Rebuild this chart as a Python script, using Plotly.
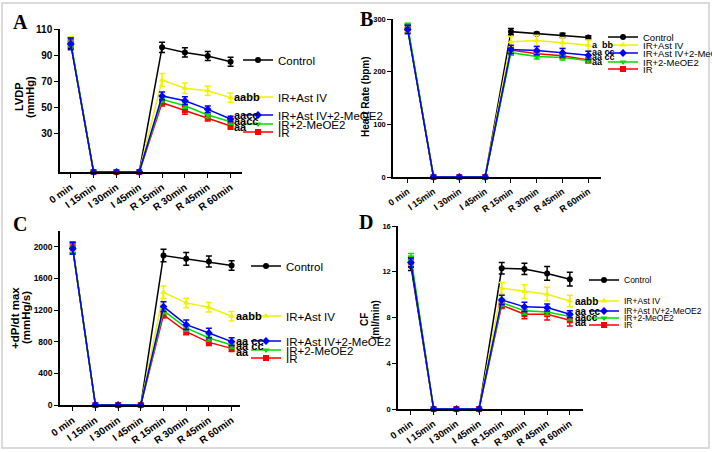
import plotly.graph_objects as go

W, H = 712, 452

times = ["0 min", "I 15min", "I 30min", "I 45min", "R 15min", "R 30min", "R 45min", "R 60min"]
groups = ["Control", "IR+Ast IV", "IR+Ast IV+2-MeOE2", "IR+2-MeOE2", "IR"]

# LVDP (mmHg)
lvdp_control = [99, 0, 0, 0, 95.9, 92.0, 89.2, 84.8]
lvdp_ast = [100, 0, 0, 0, 70.8, 64.4, 62.5, 57.2]
lvdp_ast_meo = [98.5, 0, 0, 0, 58.5, 54.8, 48.2, 40.8]
lvdp_meo = [100, 0, 0, 0, 55.9, 51.0, 43.8, 38.7]
lvdp_ir = [99, 0, 0, 0, 53.3, 47.5, 41.8, 35.4]
lvdp_control_err = [4, 0, 0, 0, 4, 3.5, 3.5, 3.5]
lvdp_ast_err = [4, 0, 0, 0, 5, 4, 3.5, 3.5]
lvdp_ast_meo_err = [4.5, 0, 0, 0, 3, 3, 2.5, 2]
lvdp_meo_err = [3, 0, 0, 0, 2, 2, 2, 2]
lvdp_ir_err = [3, 0, 0, 0, 2.5, 3, 2.5, 2.5]

# Heart rate (bpm)
hr_control = [282, 0, 0, 0, 276, 272, 269, 265]
hr_ast = [284, 0, 0, 0, 257, 259, 255, 250]
hr_ast_meo = [280, 0, 0, 0, 242, 240, 236, 231]
hr_meo = [287, 0, 0, 0, 236, 229, 227, 221]
hr_ir = [283, 0, 0, 0, 241, 234, 230, 222]
hr_control_err = [8, 0, 0, 0, 6, 3, 4, 3]
hr_ast_err = [8, 0, 0, 0, 10, 10, 10, 10]
hr_ast_meo_err = [8, 0, 0, 0, 8, 8, 8, 8]
hr_meo_err = [5, 0, 0, 0, 5, 5, 5, 5]
hr_ir_err = [5, 0, 0, 0, 5, 5, 5, 5]

# +dP/dt max (mmHg/s)
dp_control = [1980, 0, 0, 0, 1890, 1848, 1814, 1763]
dp_ast = [1985, 0, 0, 0, 1425, 1291, 1235, 1122]
dp_ast_meo = [1980, 0, 0, 0, 1244, 1016, 911, 801]
dp_meo = [1990, 0, 0, 0, 1194, 975, 848, 759]
dp_ir = [1995, 0, 0, 0, 1139, 928, 792, 716]
dp_control_err = [70, 0, 0, 0, 80, 80, 70, 60]
dp_ast_err = [70, 0, 0, 0, 80, 60, 60, 60]
dp_ast_meo_err = [70, 0, 0, 0, 60, 60, 60, 50]
dp_meo_err = [60, 0, 0, 0, 40, 40, 40, 40]
dp_ir_err = [70, 0, 0, 0, 40, 40, 40, 40]

# CF (ml/min)
cf_control = [12.5, 0, 0, 0, 12.3, 12.25, 11.85, 11.35]
cf_ast = [13.0, 0, 0, 0, 10.56, 10.27, 10.04, 9.45]
cf_ast_meo = [12.8, 0, 0, 0, 9.54, 8.93, 8.87, 8.29]
cf_meo = [13.3, 0, 0, 0, 9.3, 8.58, 8.49, 8.08]
cf_ir = [13.0, 0, 0, 0, 9.08, 8.29, 8.29, 7.76]
cf_control_err = [0.4, 0, 0, 0, 0.5, 0.5, 0.6, 0.6]
cf_ast_err = [0.4, 0, 0, 0, 0.5, 0.6, 0.6, 0.5]
cf_ast_meo_err = [0.4, 0, 0, 0, 0.4, 0.4, 0.3, 0.3]
cf_meo_err = [0.3, 0, 0, 0, 0.3, 0.3, 0.3, 0.3]
cf_ir_err = [0.3, 0, 0, 0, 0.3, 0.4, 0.5, 0.5]

panels = [
    dict(letter="A", title=["LVDP", "(mmHg)"],
         series=[lvdp_control, lvdp_ast, lvdp_ast_meo, lvdp_meo, lvdp_ir],
         errors=[lvdp_control_err, lvdp_ast_err, lvdp_ast_meo_err, lvdp_meo_err, lvdp_ir_err],
         yticks=[30, 50, 70, 90, 110],
         sig=["aabb", "aacc", "aacc", "aa"]),
    dict(letter="B", title=["Heart Rate (bpm)"],
         series=[hr_control, hr_ast, hr_ast_meo, hr_meo, hr_ir],
         errors=[hr_control_err, hr_ast_err, hr_ast_meo_err, hr_meo_err, hr_ir_err],
         yticks=[0, 100, 200, 300],
         sig=["a  bb", "aa cc", "aa cc", "aa"]),
    dict(letter="C", title=["+dP/dt max", "(mmHg/s)"],
         series=[dp_control, dp_ast, dp_ast_meo, dp_meo, dp_ir],
         errors=[dp_control_err, dp_ast_err, dp_ast_meo_err, dp_meo_err, dp_ir_err],
         yticks=[0, 400, 800, 1200, 1600, 2000],
         sig=["aabb", "aa cc", "aa cc", "aa"]),
    dict(letter="D", title=["CF", "(ml/min)"],
         series=[cf_control, cf_ast, cf_ast_meo, cf_meo, cf_ir],
         errors=[cf_control_err, cf_ast_err, cf_ast_meo_err, cf_meo_err, cf_ir_err],
         yticks=[0, 4, 8, 12, 16],
         sig=["aabb", "aa cc", "aacc", "aa"]),
]

# layout in pixels (from the top-left corner of the picture)
geo = [
    dict(x=(60, 242), y=(29, 172), xr=[-0.47, 7.5], yr=[0, 110], letter=(20, 22),
         title_x=[19, 30], title_y=97, title_fs=11, xtick_fs=10, ytick_fs=10,
         leg_x=278, leg_y=[60, 97, 115, 124, 132], leg_fs=11.5,
         sig_x=232, sig_y=[97, 115, 121, 127], sig_fs=11),
    dict(x=(393, 601), y=(19, 177), xr=[-0.57, 7.49], yr=[0, 300], letter=(366, 19),
         title_x=[366], title_y=97, title_fs=10, xtick_fs=9, ytick_fs=7.5,
         leg_x=643, leg_y=[37, 45, 53, 62, 69], leg_fs=9.5,
         sig_x=590, sig_y=[45, 52, 57, 62], sig_fs=9),
    dict(x=(60, 240), y=(231, 405), xr=[-0.56, 7.37], yr=[0, 2200], letter=(20, 224),
         title_x=[15, 26], title_y=318, title_fs=11.5, xtick_fs=10, ytick_fs=8.5,
         leg_x=286, leg_y=[266, 316, 341, 350, 358], leg_fs=11.5,
         sig_x=234, sig_y=[316, 341, 346, 352], sig_fs=11),
    dict(x=(398, 583), y=(226, 409), xr=[-0.57, 7.58], yr=[0, 16], letter=(366, 222),
         title_x=[364, 375], title_y=320, title_fs=10, xtick_fs=9.5, ytick_fs=7.5,
         leg_x=624, leg_y=[280, 301, 311, 318, 325], leg_fs=8.5,
         sig_x=573, sig_y=[301, 311, 317, 322], sig_fs=10),
]

colors = ["#000000", "#f2f200", "#0000ff", "#00dd00", "#ff0000"]
symbols = ["circle", "triangle-up", "diamond", "triangle-down", "square"]
draw_order = [0, 1, 4, 3, 2]


def px(xp):
    return xp / W


def py(yp):
    return 1 - yp / H


fig = go.Figure()
layout = dict(width=W, height=H, margin=dict(l=0, r=0, t=0, b=0, autoexpand=False),
              paper_bgcolor="white", plot_bgcolor="white",
              font=dict(family="Arial, Liberation Sans", color="black"))
annotations = []
legend_count = 0

for i, (p, g) in enumerate(zip(panels, geo)):
    n = i + 1
    xa = "x" if n == 1 else f"x{n}"
    ya = "y" if n == 1 else f"y{n}"
    for k in draw_order:
        legend_count += 1
        lname = "legend" if legend_count == 1 else f"legend{legend_count}"
        fig.add_trace(go.Scatter(
            x=times, y=p["series"][k], name=groups[k],
            mode="lines+markers", xaxis=xa, yaxis=ya, cliponaxis=False,
            line=dict(color=colors[k], width=1.5),
            marker=dict(color=colors[k], symbol=symbols[k], size=6),
            error_y=dict(type="data", array=p["errors"][k], color=colors[k],
                         thickness=1.5, width=3),
            legend=lname, showlegend=True,
        ))
        layout[lname] = dict(x=px(g["leg_x"] - 40), y=py(g["leg_y"][k]),
                             xanchor="left", yanchor="middle",
                             bgcolor="rgba(0,0,0,0)", borderwidth=0,
                             font=dict(size=g["leg_fs"], color="black"),
                             itemclick=False, tracegroupgap=0)
    xkey = "xaxis" if n == 1 else f"xaxis{n}"
    ykey = "yaxis" if n == 1 else f"yaxis{n}"
    layout[xkey] = dict(domain=[px(g["x"][0]), px(g["x"][1])], anchor=ya,
                        type="category", categoryorder="array", categoryarray=times,
                        range=g["xr"], showline=True, linecolor="black", linewidth=1.5,
                        ticks="outside", ticklen=4, tickwidth=1.2, tickcolor="black",
                        tickangle=-35, showgrid=False, zeroline=False, automargin=False,
                        tickfont=dict(size=g["xtick_fs"], weight="bold"))
    layout[ykey] = dict(domain=[py(g["y"][1]), py(g["y"][0])], anchor=xa,
                        range=g["yr"], tickvals=p["yticks"], automargin=False,
                        showline=True, linecolor="black", linewidth=1.5,
                        ticks="outside", ticklen=4, tickwidth=1.2, tickcolor="black",
                        showgrid=False, zeroline=False,
                        tickfont=dict(size=g["ytick_fs"], weight="bold"))
    annotations.append(dict(x=px(g["letter"][0]), y=py(g["letter"][1]), xref="paper", yref="paper",
                            text=p["letter"], showarrow=False, xanchor="center", yanchor="middle",
                            font=dict(family="Liberation Serif, Times New Roman", size=20,
                                      weight="bold")))
    for line, tx in zip(p["title"], g["title_x"]):
        annotations.append(dict(x=px(tx), y=py(g["title_y"]), xref="paper", yref="paper",
                                text=line, showarrow=False, textangle=-90,
                                xanchor="center", yanchor="middle",
                                font=dict(size=g["title_fs"], weight="bold")))
    for s, sy in zip(p["sig"], g["sig_y"]):
        annotations.append(dict(x=px(g["sig_x"]), y=py(sy), xref="paper", yref="paper",
                                text=s.replace(" ", "&nbsp;"), showarrow=False,
                                xanchor="left", yanchor="middle",
                                font=dict(size=g["sig_fs"], weight="bold")))

layout["annotations"] = annotations
layout["shapes"] = [dict(type="rect", xref="paper", yref="paper",
                         x0=px(2), x1=px(709), y0=py(448), y1=py(3),
                         line=dict(color="#cfcfcf", width=1.5))]
fig.update_layout(**layout)

# drop the page's default body margin so the figure sits at the window's corner
fig.write_html("out.html", config={"displayModeBar": False},
               post_script="document.body.style.margin='0';")
